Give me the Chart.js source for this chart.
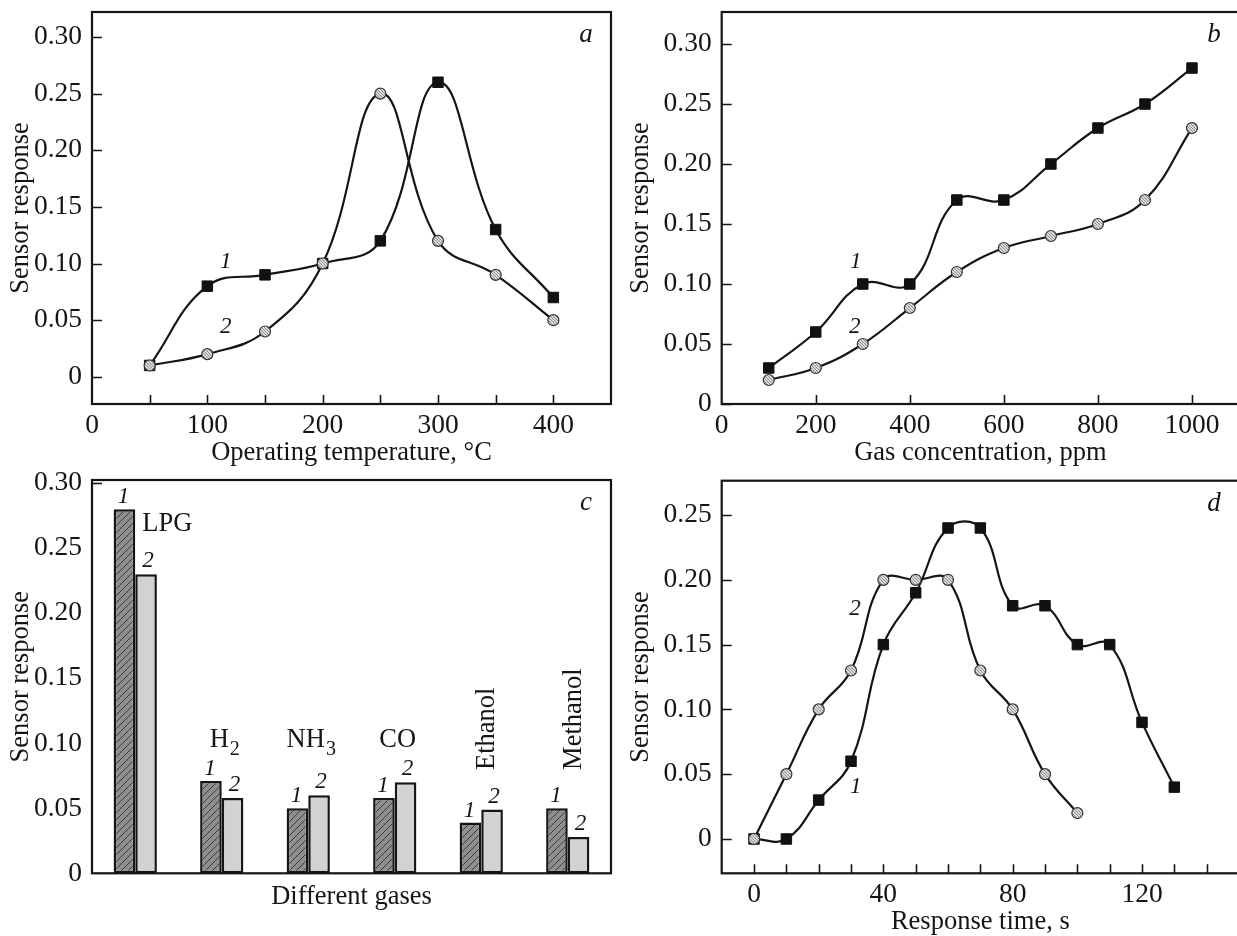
<!DOCTYPE html>
<html><head><meta charset="utf-8">
<script src="https://cdn.jsdelivr.net/npm/chart.js@4/dist/chart.umd.min.js"></script>
<style>
html,body{margin:0;padding:0;background:#fff;overflow:hidden;width:1237px;height:936px;position:relative;}
canvas{position:absolute;}
</style></head><body>
<canvas id="ca" width="620" height="470" style="left:0;top:0"></canvas>
<canvas id="cb" width="625" height="470" style="left:620px;top:0"></canvas>
<canvas id="cc" width="620" height="480" style="left:0;top:460px"></canvas>
<canvas id="cd" width="625" height="480" style="left:620px;top:460px"></canvas>
<script>
// ---------- data ----------
const tempA = [50, 100, 150, 200, 250, 300, 350, 400];
const respA1 = [0.01, 0.08, 0.09, 0.10, 0.12, 0.26, 0.13, 0.07];
const respA2 = [0.01, 0.02, 0.04, 0.10, 0.25, 0.12, 0.09, 0.05];

const concB = [100, 200, 300, 400, 500, 600, 700, 800, 900, 1000];
const respB1 = [0.03, 0.06, 0.10, 0.10, 0.17, 0.17, 0.20, 0.23, 0.25, 0.28];
const respB2 = [0.02, 0.03, 0.05, 0.08, 0.11, 0.13, 0.14, 0.15, 0.17, 0.23];

const gasesC = ['LPG', 'H2', 'NH3', 'CO', 'Ethanol', 'Methanol'];
const respC1 = [0.28, 0.071, 0.05, 0.058, 0.039, 0.05];
const respC2 = [0.23, 0.058, 0.06, 0.07, 0.049, 0.028];

const timeD1 = [0, 10, 20, 30, 40, 50, 60, 70, 80, 90, 100, 110, 120, 130];
const respD1 = [0, 0, 0.03, 0.06, 0.15, 0.19, 0.24, 0.24, 0.18, 0.18, 0.15, 0.15, 0.09, 0.04];
const timeD2 = [0, 10, 20, 30, 40, 50, 60, 70, 80, 90, 100];
const respD2 = [0, 0.05, 0.10, 0.13, 0.20, 0.20, 0.20, 0.13, 0.10, 0.05, 0.02];

// tick labels / tick marks
const yTicks30 = [0, 0.05, 0.10, 0.15, 0.20, 0.25, 0.30];
const yTicks25 = [0, 0.05, 0.10, 0.15, 0.20, 0.25];
const xLabelsA = [0, 100, 200, 300, 400];
const xMarksA = [50, 100, 150, 200, 250, 300, 350, 400];
const xLabelsB = [0, 200, 400, 600, 800, 1000];
const xMarksB = [200, 400, 600, 800, 1000];
const xLabelsD = [0, 40, 80, 120];
const xMarksD = [0, 10, 20, 30, 40, 50, 60, 70, 80, 90, 100, 110, 120, 130, 140];

// ---------- styling ----------
const INK = '#151515';
const SERIF = '"Liberation Serif","Times New Roman",serif';
Chart.defaults.font.family = SERIF;
Chart.defaults.font.size = 26.5;
Chart.defaults.color = INK;
Chart.defaults.animation = false;
Chart.defaults.events = [];
Chart.defaults.plugins.legend.display = false;
Chart.defaults.plugins.tooltip.enabled = false;

function dotPattern() {
  const c = document.createElement('canvas'); c.width = 3; c.height = 3;
  const g = c.getContext('2d');
  g.fillStyle = '#dcdcdc'; g.fillRect(0, 0, 3, 3);
  g.fillStyle = '#8c8c8c'; g.fillRect(0, 0, 1, 1); g.fillRect(1, 1, 1, 1); g.fillRect(2, 2, 1, 1);
  return g.createPattern(c, 'repeat');
}
function hatchPattern() {
  const s = 7;
  const c = document.createElement('canvas'); c.width = s; c.height = s;
  const g = c.getContext('2d');
  g.fillStyle = '#8f8f8f'; g.fillRect(0, 0, s, s);
  g.strokeStyle = '#3c3c3c'; g.lineWidth = 1;
  g.beginPath();
  g.moveTo(0, s); g.lineTo(s, 0);
  g.moveTo(-1, 1); g.lineTo(1, -1);
  g.moveTo(s - 1, s + 1); g.lineTo(s + 1, s - 1);
  g.stroke();
  return g.createPattern(c, 'repeat');
}
const DOTS = dotPattern();
const HATCH = hatchPattern();

const fmtY = v => (Math.abs(v) < 1e-9 ? '0' : v.toFixed(2));

function yAxis(min, max, ticks, width) {
  return {
    type: 'linear', min, max,
    afterBuildTicks: s => { s.ticks = ticks.map(v => ({ value: v })); },
    afterFit: s => { s.width = width; s.paddingTop = 0; s.paddingBottom = 0; },
    grid: { display: false, drawTicks: false }, border: { display: false },
    ticks: { padding: 10, callback: fmtY, autoSkip: false, font: { size: 27.5 } },
    title: { display: true, text: 'Sensor response', padding: { top: 5, bottom: 0 } }
  };
}
function xAxis(min, max, labels, height, title) {
  return {
    type: 'linear', min, max,
    afterBuildTicks: s => { s.ticks = labels.map(v => ({ value: v })); },
    afterFit: s => { s.height = height; s.paddingLeft = 0; s.paddingRight = 0; },
    grid: { display: false, drawTicks: false }, border: { display: false },
    ticks: { padding: 5, maxRotation: 0, autoSkip: false, callback: v => String(v), font: { size: 27.5 } },
    title: { display: true, text: title, padding: { top: 0, bottom: 0 } }
  };
}
function squares(xs, ys) {
  return {
    data: xs.map((x, i) => ({ x, y: ys[i] })), order: 1,
    borderColor: INK, borderWidth: 2.2, tension: 0.42, fill: false,
    pointStyle: 'rect', pointRadius: 7.4, pointBackgroundColor: '#111', pointBorderColor: '#111', pointBorderWidth: 1
  };
}
function circles(xs, ys) {
  return {
    data: xs.map((x, i) => ({ x, y: ys[i] })), order: 0,
    borderColor: INK, borderWidth: 2.2, tension: 0.42, fill: false,
    pointStyle: 'circle', pointRadius: 5.5, pointBackgroundColor: DOTS, pointBorderColor: '#333', pointBorderWidth: 1.2
  };
}

// frame, inward tick marks, panel letter, curve numbers
function decor(cfg) {
  return {
    id: 'decor',
    afterDatasetsDraw(chart) {
      const { ctx, chartArea: a, scales: { x, y } } = chart;
      ctx.save();
      ctx.strokeStyle = INK; ctx.lineWidth = 2.2;
      ctx.strokeRect(a.left, a.top, a.right - a.left, a.bottom - a.top);
      ctx.lineWidth = 1.6;
      ctx.beginPath();
      (cfg.xMarks || []).forEach(v => {
        const px = Math.round(x.getPixelForValue(v)) + 0.5;
        ctx.moveTo(px, a.bottom); ctx.lineTo(px, a.bottom - 9);
      });
      (cfg.yMarks || []).forEach(v => {
        const py = Math.round(y.getPixelForValue(v)) + 0.5;
        ctx.moveTo(a.left, py); ctx.lineTo(a.left + 10, py);
      });
      ctx.stroke();
      ctx.fillStyle = INK;
      ctx.textAlign = 'center'; ctx.textBaseline = 'alphabetic';
      ctx.font = 'italic 27px ' + SERIF;
      ctx.fillText(cfg.letter, a.right - 25, a.top + 30);
      ctx.font = 'italic 23px ' + SERIF;
      (cfg.notes || []).forEach(n => ctx.fillText(n.t, x.getPixelForValue(n.x), y.getPixelForValue(n.y)));
      if (cfg.after) cfg.after(chart, ctx);
      ctx.restore();
    }
  };
}

// ---------- panel a ----------
new Chart(document.getElementById('ca'), {
  type: 'line',
  data: { datasets: [squares(tempA, respA1), circles(tempA, respA2)] },
  options: {
    responsive: false, devicePixelRatio: 1,
    layout: { autoPadding: false, padding: { left: 0, top: 12, right: 9, bottom: 0.7 } },
    scales: { x: xAxis(0, 450, xLabelsA, 65.3, 'Operating temperature, °C'), y: yAxis(-0.024, 0.322, yTicks30, 92) }
  },
  plugins: [decor({ xMarks: xMarksA, yMarks: yTicks30, letter: 'a',
    notes: [{ t: '1', x: 116, y: 0.0956 }, { t: '2', x: 116, y: 0.0383 }] })]
});

// ---------- panel b ----------
new Chart(document.getElementById('cb'), {
  type: 'line',
  data: { datasets: [squares(concB, respB1), circles(concB, respB2)] },
  options: {
    responsive: false, devicePixelRatio: 1,
    layout: { autoPadding: false, padding: { left: 0, top: 12, right: 6, bottom: 0.7 } },
    scales: { x: xAxis(0, 1100, xLabelsB, 65.3, 'Gas concentration, ppm'), y: yAxis(0, 0.3267, yTicks30, 101.7) }
  },
  plugins: [decor({ xMarks: xMarksB, yMarks: yTicks30, letter: 'b',
    notes: [{ t: '1', x: 285, y: 0.1131 }, { t: '2', x: 283, y: 0.0589 }] })]
});

// ---------- panel c ----------
function drawGasLabels(chart, ctx) {
  const y = chart.scales.y;
  const m1 = chart.getDatasetMeta(0).data, m2 = chart.getDatasetMeta(1).data;
  ctx.fillStyle = INK;
  ctx.textBaseline = 'alphabetic';
  gasesC.forEach((name, i) => {
    const b1 = m1[i], b2 = m2[i];
    const cx = (b1.x + b2.x) / 2;
    // curve numbers above the bars
    ctx.font = 'italic 23px ' + SERIF; ctx.textAlign = 'center';
    ctx.fillText('1', b1.x - 1, b1.y - 6);
    ctx.fillText('2', b2.x + 2, b2.y - 7);
    // gas names
    const mm = name.match(/^(\D+)(\d)$/);
    if (i === 0) {
      ctx.font = '26.5px ' + SERIF; ctx.textAlign = 'left';
      ctx.fillText(name, cx + 7, y.getPixelForValue(0.2633));
    } else if (name.length > 5) {
      ctx.save();
      ctx.font = '26.5px ' + SERIF; ctx.textAlign = 'left';
      ctx.translate(cx + 13, y.getPixelForValue(0.0795));
      ctx.rotate(-Math.PI / 2);
      ctx.fillText(name, 0, 0);
      ctx.restore();
    } else {
      const base = y.getPixelForValue(0.0969);
      const main = mm ? mm[1] : name, sub = mm ? mm[2] : '';
      ctx.font = '26.5px ' + SERIF;
      const w1 = ctx.measureText(main).width;
      ctx.font = '20px ' + SERIF;
      const w2 = sub ? ctx.measureText(sub).width + 1 : 0;
      const x0 = cx + 3 - (w1 + w2) / 2;
      ctx.textAlign = 'left';
      ctx.font = '26.5px ' + SERIF; ctx.fillText(main, x0, base);
      if (sub) { ctx.font = '20px ' + SERIF; ctx.fillText(sub, x0 + w1 + 1, base + 8); }
    }
  });
}
new Chart(document.getElementById('cc'), {
  type: 'bar',
  data: {
    labels: gasesC,
    datasets: [
      { data: respC1, backgroundColor: HATCH, borderColor: INK, borderWidth: 2.5, borderSkipped: false, barPercentage: 1, categoryPercentage: 0.5 },
      { data: respC2, backgroundColor: '#d1d2d4', borderColor: INK, borderWidth: 2.5, borderSkipped: false, barPercentage: 1, categoryPercentage: 0.5 }
    ]
  },
  options: {
    responsive: false, devicePixelRatio: 1,
    layout: { autoPadding: false, padding: { left: 0, top: 20, right: 9, bottom: 27.4 } },
    scales: {
      x: {
        type: 'category', offset: true,
        afterFit: s => { s.height = 39.3; s.paddingLeft = 0; s.paddingRight = 0; },
        grid: { display: false, drawTicks: false }, border: { display: false },
        ticks: { display: false },
        title: { display: true, text: 'Different gases', padding: { top: 0, bottom: 0 } }
      },
      y: yAxis(0, 0.3025, yTicks30, 92)
    }
  },
  plugins: [decor({ yMarks: [0.30], letter: 'c', after: drawGasLabels })]
});

// ---------- panel d ----------
new Chart(document.getElementById('cd'), {
  type: 'line',
  data: { datasets: [squares(timeD1, respD1), circles(timeD2, respD2)] },
  options: {
    responsive: false, devicePixelRatio: 1,
    layout: { autoPadding: false, padding: { left: 0, top: 20.7, right: 6, bottom: 2.4 } },
    scales: { x: xAxis(-10, 150, xLabelsD, 64.3, 'Response time, s'), y: yAxis(-0.0265, 0.2765, yTicks25, 101.7) }
  },
  plugins: [decor({ xMarks: xMarksD, yMarks: yTicks25, letter: 'd',
    notes: [{ t: '2', x: 31.2, y: 0.1728 }, { t: '1', x: 31.5, y: 0.0352 }] })]
});
</script>
</body></html>
